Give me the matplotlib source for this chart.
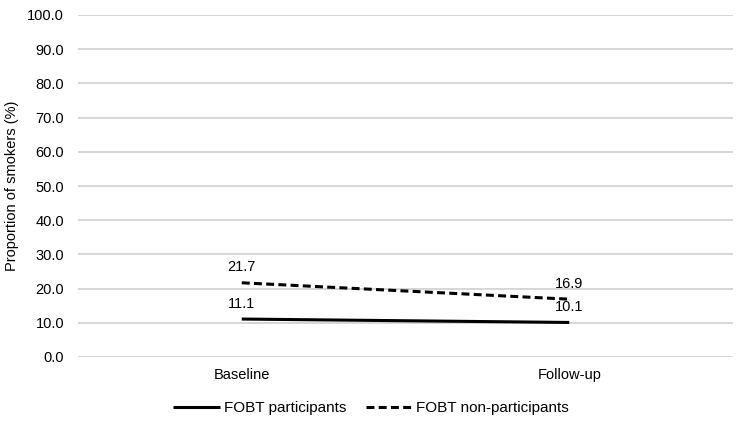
import matplotlib
matplotlib.use("Agg")
import matplotlib.pyplot as plt

categories = ["Baseline", "Follow-up"]
participants = [11.1, 10.1]
non_participants = [21.7, 16.9]
yticks = [0, 10, 20, 30, 40, 50, 60, 70, 80, 90, 100]

plt.rcParams['font.family'] = ['Liberation Sans', 'DejaVu Sans']
fig = plt.figure(figsize=(7.42, 4.24), dpi=100)
ax = fig.add_axes([78/742, 1-357/424, 655/742, (357-15)/424])

x = [0, 1]
ax.plot(x, participants, color='black', lw=2.2, solid_capstyle='butt', label='FOBT participants')
ax.plot(x, non_participants, color='black', lw=2.2, ls=(0, (2.6, 1.4)), dash_capstyle='butt', label='FOBT non-participants')

for xi, v in zip(x, participants):
    ax.annotate(f"{v:.1f}", (xi, v), xytext=(0, 6), textcoords='offset points', ha='center', va='bottom', fontsize=10.5)
for xi, v in zip(x, non_participants):
    ax.annotate(f"{v:.1f}", (xi, v), xytext=(0, 6), textcoords='offset points', ha='center', va='bottom', fontsize=10.5)

ax.set_xlim(-0.5, 1.5)
ax.set_ylim(0, 100)
ax.set_yticks(yticks)
ax.set_yticklabels([f"{t:.1f}" for t in yticks], fontsize=10.5)
ax.set_xticks(x)
ax.set_xticklabels(categories, fontsize=10.5)
ax.tick_params(axis='y', length=0, pad=10)
ax.tick_params(axis='x', length=0, pad=8)
ax.grid(axis='y', color='#d0d0d0', lw=1.2)
ax.set_axisbelow(True)
for s in ax.spines.values():
    s.set_visible(False)
ax.set_ylabel("Proportion of smokers (%)", fontsize=10.5, labelpad=6)

fig.legend(loc='center', bbox_to_anchor=(0.5, 1-408/424), ncol=2, frameon=False, fontsize=11,
           handlelength=3.1, handletextpad=0.2, columnspacing=1.3)

fig.savefig("out.png", dpi=100)
